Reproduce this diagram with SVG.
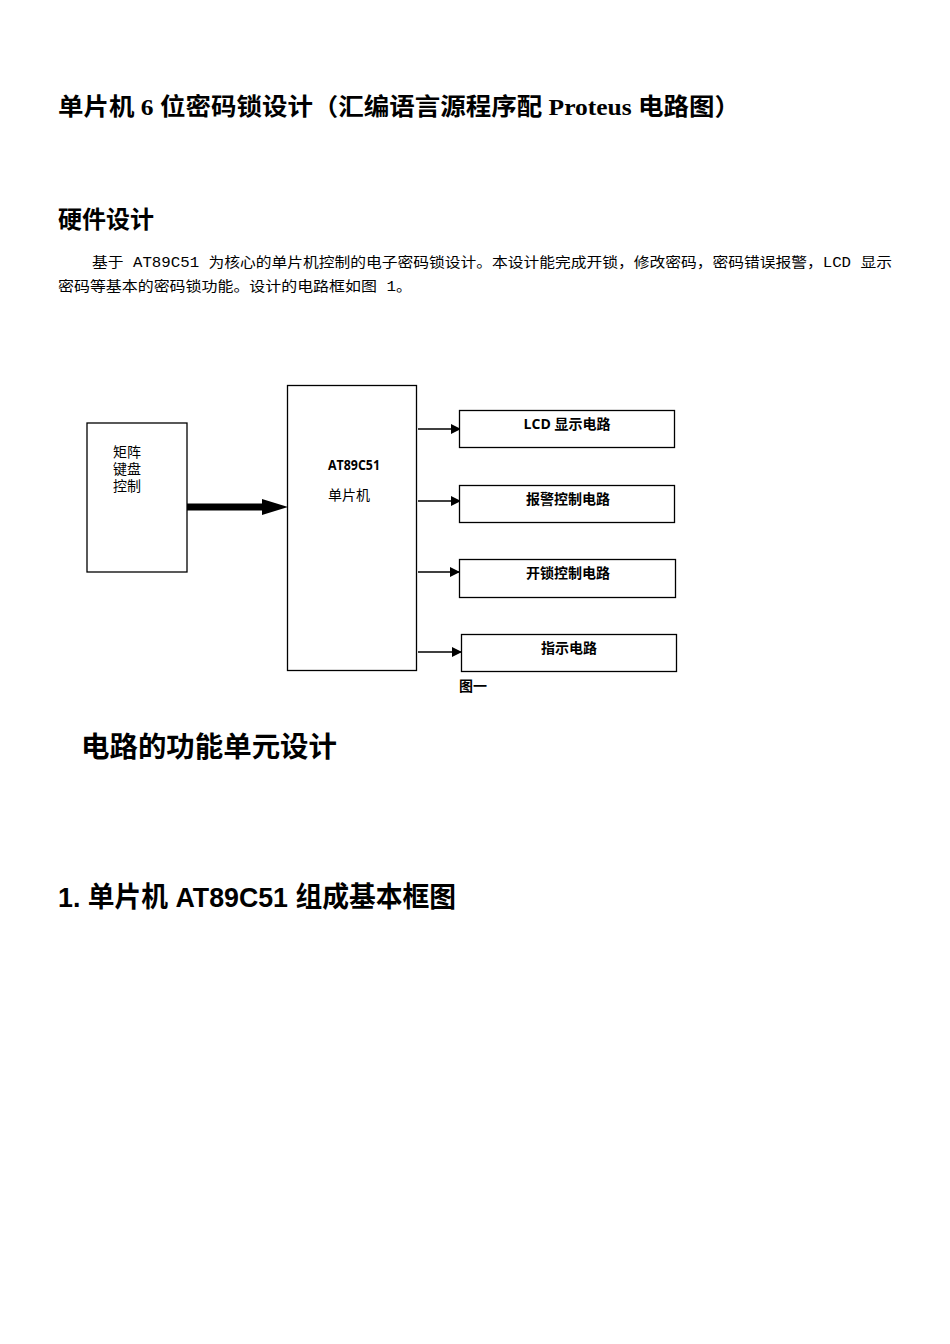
<svg xmlns="http://www.w3.org/2000/svg" width="950" height="1344" viewBox="0 0 950 1344">
<style>
.h{font-family:"Liberation Serif","Noto Sans CJK SC",serif;font-weight:bold;font-size:24px;fill:#000;}
.p{font-family:"Liberation Mono","Noto Sans CJK SC",monospace;font-size:14px;fill:#000;}
.box{fill:#fff;stroke:#000;stroke-width:1.3;}
.lbl{font-family:"Open Sans","Noto Sans CJK SC",sans-serif;font-size:14px;fill:#000;}
.b{font-weight:bold;}
.con{stroke:#000;stroke-width:1.3;fill:none;}
.hs{font-family:"Liberation Sans","Noto Sans CJK SC",sans-serif;font-weight:bold;fill:#000;}
</style>
<defs>
<marker id="ah" markerWidth="10" markerHeight="10" refX="9" refY="5" orient="auto" markerUnits="userSpaceOnUse">
<path d="M0,0 L10,5 L0,10 Z" fill="#000"/>
</marker>
</defs>
<rect width="950" height="1344" fill="#fff"/>
<text class="h" x="58" y="115" textLength="682" lengthAdjust="spacingAndGlyphs">单片机 6 位密码锁设计（汇编语言源程序配 Proteus 电路图）</text>
<text class="h" x="58" y="228" font-size="25">硬件设计</text>
<text class="p" x="92" y="267" textLength="800" lengthAdjust="spacingAndGlyphs">基于 AT89C51 为核心的单片机控制的电子密码锁设计。本设计能完成开锁，修改密码，密码错误报警，LCD 显示</text>
<text class="p" x="58" y="291" textLength="354" lengthAdjust="spacingAndGlyphs">密码等基本的密码锁功能。设计的电路框如图 1。</text>

<g id="connectors">
<path d="M187,507 H264" stroke="#000" stroke-width="7" fill="none"/>
<path d="M262,499 L288,507 L262,515 Z" fill="#000"/>
<line class="con" x1="418" y1="429" x2="460" y2="429" marker-end="url(#ah)"/>
<line class="con" x1="418" y1="501" x2="460" y2="501" marker-end="url(#ah)"/>
<line class="con" x1="418" y1="572" x2="459" y2="572" marker-end="url(#ah)"/>
<line class="con" x1="418" y1="652" x2="461" y2="652" marker-end="url(#ah)"/>
</g>

<g id="keyboard">
<rect class="box" x="87" y="423" width="100" height="149"/>
<text class="lbl" x="113" y="457" font-size="13">矩阵</text>
<text class="lbl" x="113" y="474" font-size="13">键盘</text>
<text class="lbl" x="113" y="491" font-size="13">控制</text>
</g>
<g id="mcu">
<rect class="box" x="287.5" y="385.5" width="129" height="285"/>
<text class="lbl b" x="328" y="470" font-size="13" textLength="52" lengthAdjust="spacingAndGlyphs">AT89C51</text>
<text class="lbl" x="328" y="500">单片机</text>
</g>
<g id="lcd">
<rect class="box" x="459.5" y="410.5" width="215" height="37"/>
<text class="lbl b" x="567" y="429" text-anchor="middle">LCD 显示电路</text>
</g>
<g id="alarm">
<rect class="box" x="459.5" y="485.5" width="215" height="37"/>
<text class="lbl b" x="568" y="504" text-anchor="middle">报警控制电路</text>
</g>
<g id="unlock">
<rect class="box" x="459.5" y="559.5" width="216" height="38"/>
<text class="lbl b" x="568" y="578" text-anchor="middle">开锁控制电路</text>
</g>
<g id="indicator">
<rect class="box" x="461.5" y="634.5" width="215" height="37"/>
<text class="lbl b" x="569" y="653" text-anchor="middle">指示电路</text>
</g>
<text class="lbl b" x="459" y="691" font-size="15">图一</text>

<text class="hs" x="81" y="757" font-size="28" textLength="256" lengthAdjust="spacingAndGlyphs">电路的功能单元设计</text>
<text class="hs" x="58" y="907" font-size="28" textLength="398" lengthAdjust="spacingAndGlyphs">1. 单片机 AT89C51 组成基本框图</text>
</svg>
